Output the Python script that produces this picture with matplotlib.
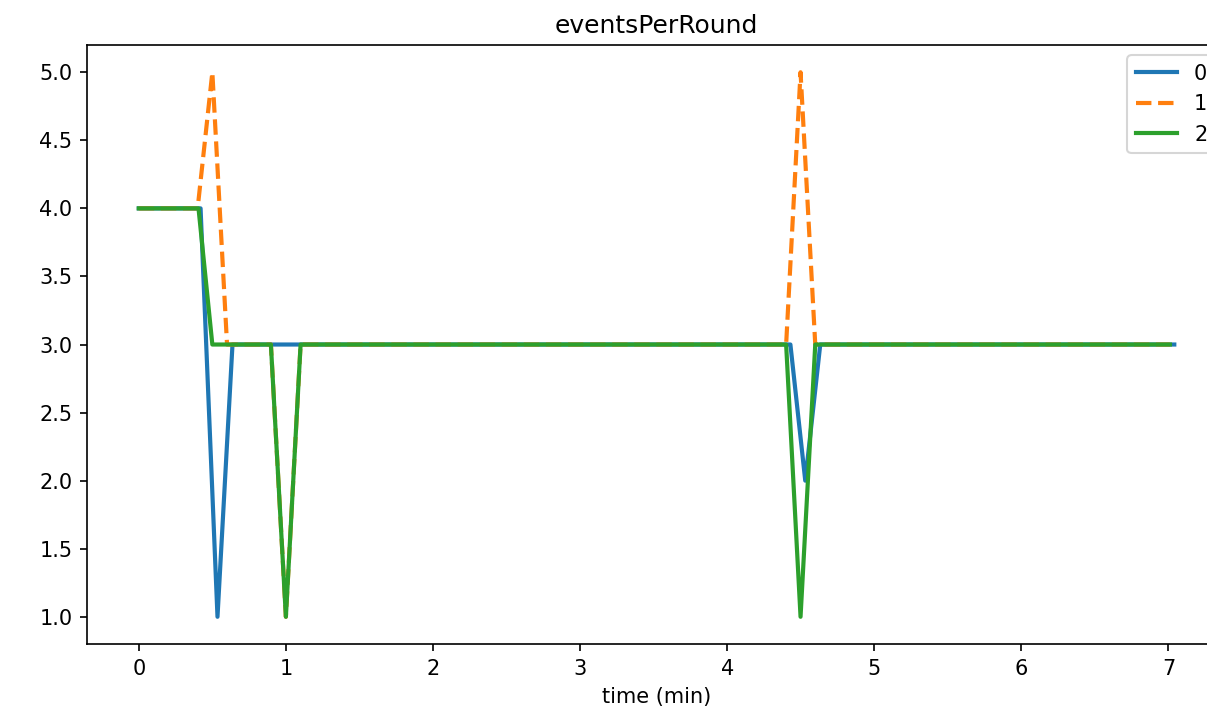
import matplotlib.pyplot as plt

# breakpoints (time in minutes, events per round)
time_0 = [0.0, 0.42, 0.535, 0.637, 4.43, 4.531, 4.633, 7.04]
events_0 = [4, 4, 1, 3, 3, 2, 3, 3]

time_1 = [0.0, 0.40, 0.50, 0.60, 0.898, 1.0, 1.10, 4.401, 4.499, 4.599, 7.01]
events_1 = [4, 4, 5, 3, 3, 1, 3, 3, 5, 3, 3]

time_2 = [0.0, 0.406, 0.50, 0.898, 1.0, 1.10, 4.401, 4.499, 4.599, 7.01]
events_2 = [4, 4, 3, 3, 1, 3, 3, 1, 3, 3]

series = [
    ("0", time_0, events_0, "-"),
    ("1", time_1, events_1, "--"),
    ("2", time_2, events_2, "-"),
]

def main():
    fig = plt.figure(figsize=(1207 / 150, 717 / 150), dpi=150)
    # the original figure is cut off on the right, so the axes run past the edge
    ax = fig.add_axes([0.0721, 0.1018, 0.9437, 0.8354])

    for label, t, ev, ls in series:
        ax.plot(t, ev, linestyle=ls, linewidth=2, label=label)

    ax.set_title("eventsPerRound")
    ax.set_xlabel("time (min)")
    ax.legend(loc="upper right")

    fig.savefig("out.png", dpi=150)
    plt.close(fig)

main()
